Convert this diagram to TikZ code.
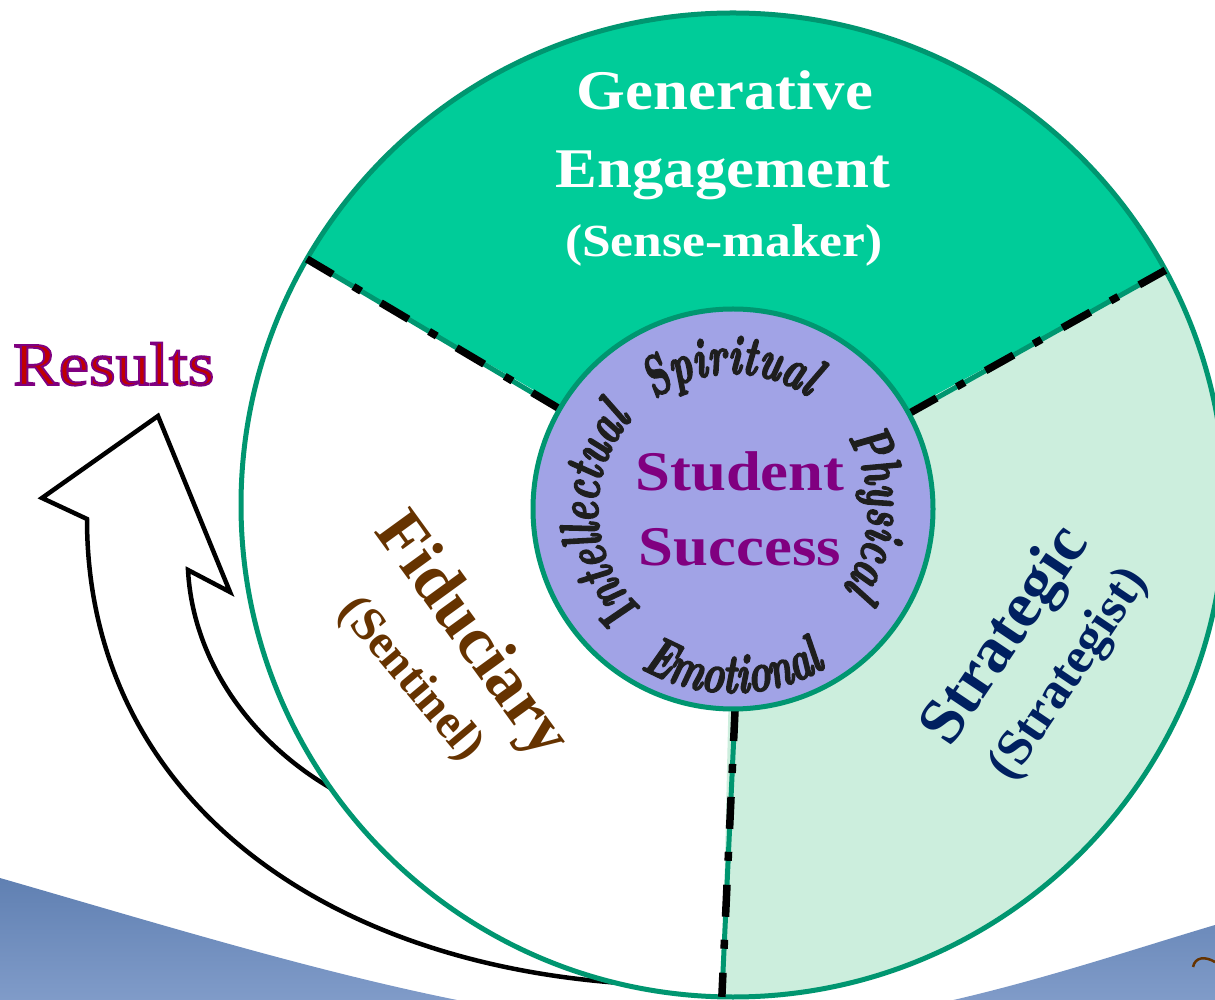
\documentclass[tikz,border=0pt]{standalone}
\usepackage{fontspec}
\setmainfont{Liberation Serif}
\newfontfamily\garafont[FakeStretch=1.12]{Liberation Serif}
\newfontfamily\handfont[FakeStretch=0.67]{Latin Modern Roman}
\usetikzlibrary{calc,decorations.text}

\definecolor{ringteal}{RGB}{0,150,112}
\definecolor{topgreen}{RGB}{0,204,153}
\definecolor{palegreen}{RGB}{204,238,221}
\definecolor{corelilac}{RGB}{161,163,230}
\definecolor{succpurple}{RGB}{128,0,128}
\definecolor{fidbrown}{RGB}{102,51,0}
\definecolor{stratnavy}{RGB}{0,32,96}
\definecolor{resred}{RGB}{192,0,0}
\definecolor{bandtop}{RGB}{96,128,178}
\definecolor{bandlow}{RGB}{138,164,208}
\definecolor{handgray}{RGB}{30,30,30}

\tikzset{
  ringline/.style={draw=ringteal, line width=5pt},
  divdash/.style={draw=black, line width=7.5pt, dash pattern=on 32pt off 23pt on 9pt off 24pt},
  ringword/.style={decorate, decoration={text along path, text align=center,
      text={|\handfont\bfseries\itshape\fontsize{56}{56}\selectfont\color{handgray}\special{pdf:literal direct 0.12 0.12 0.12 RG 1.6 w 2 Tr}|#1}}},
  engtext/.style={anchor=base, text=white, font=\garafont\bfseries\fontsize{#1}{#1}\selectfont},
  sidetext/.style={font=\bfseries\fontsize{#1}{#1}\selectfont}
}

\begin{document}
\begin{tikzpicture}[x=1pt, y=1pt]
    \useasboundingbox (0,0) rectangle (1215,999);
    \clip (0,0) rectangle (1215,999);

    \shade[top color=bandtop, bottom color=bandlow]
        (0,121) .. controls (250,49) and (500,-31) .. (720,-31)
        .. controls (900,-31) and (1080,34) .. (1215,74) -- (1215,-40) -- (0,-40) -- cycle;
    \draw[fidbrown, line width=2.5pt] (1193,32) .. controls (1195,42) and (1205,43) .. (1215,37);

    \coordinate (nl) at (87,480);
    \coordinate (ht) at (42,501);
    \coordinate (hp) at (158,583);
    \coordinate (br) at (230,407);
    \coordinate (nr) at (188,429);
    \coordinate (ie) at (345,203);
    \coordinate (oe) at (660,14);
    \draw[line width=4.5pt, fill=white] (nl) -- (ht) -- (hp) -- (br) -- (nr)
        .. controls (193,335) and (255,250) .. (ie) -- (oe)
        .. controls (330,24) and (87,199) .. (nl) -- cycle;

    \coordinate (C) at (733,494);
    \coordinate (K) at (733,490);
    \fill[white] (C) -- ($(C)+(150:492)$) arc[start angle=150, end angle=268.7, radius=492] -- cycle;
    \fill[topgreen] (C) -- ($(C)+(28.5:492)$) arc[start angle=28.5, end angle=150, radius=492] -- cycle;
    \fill[palegreen] (C) -- ($(C)+(-91.3:492)$) arc[start angle=-91.3, end angle=28.5, radius=492] -- cycle;
    \draw[ringline] (C) circle[radius=492];

    \coordinate (in1) at ($(K)+(150:200)$);
    \coordinate (out1) at ($(C)+(150:492)$);
    \coordinate (in2) at ($(K)+(28.5:200)$);
    \coordinate (out2) at ($(C)+(28.5:492)$);
    \coordinate (in3) at ($(K)+(-89.4:200)$);
    \coordinate (out3) at ($(C)+(-91.3:492)$);
    \foreach \i in {1,2,3} {
        \draw[ringline] (in\i) -- (out\i);
        \draw[divdash] (in\i) -- (out\i);
    }

    \node[circle, minimum size=400pt, inner sep=0pt, fill=corelilac, ringline] (core) at (K) {};
    \node[align=center, text=succpurple, font=\garafont\bfseries\fontsize{56}{75}\selectfont]
        (succ) at ([xshift=7pt]core.center) {Student\\Success};

    \node[engtext=56] (gen) at (725,889) {Generative};
    \node[engtext=56] (eng) at (723,811) {Engagement};
    \node[engtext=46] (sense) at (724,742) {(Sense-maker)};

    \node[sidetext=68, rotate=-54, text=fidbrown] (fid) at (470,362) {Fiduciary};
    \node[sidetext=48, rotate=-50, text=fidbrown] (sent) at (410,319) {(Sentinel)};
    \node[sidetext=65, rotate=56, text=stratnavy] (strat) at (1007,362) {Strategic};
    \node[sidetext=51, rotate=56, text=stratnavy] (strg) at (1070,324) {(Strategist)};

    \node[anchor=base west, inner sep=0pt, font=\garafont\fontsize{61}{61}\selectfont] (res) at (13,614)
        {\color{resred}\special{pdf:literal direct 0.5 0 0.5 RG 2 w 2 Tr}Results\special{pdf:literal direct 0 Tr}};

    \path[ringword=Spiritual] ($(K)+(160:135)$) arc[start angle=160, end angle=22, radius=135];
    \path[ringword=Physical] ($(K)+(60:135)$) arc[start angle=60, end angle=-63, radius=135];
    \path[ringword=Intellectual] ($(K)+(252:135)$) arc[start angle=252, end angle=114, radius=135];
    \path[ringword=Emotional] ($(K)+(210:184)$) arc[start angle=210, end angle=330, radius=184];
\end{tikzpicture}
\end{document}
